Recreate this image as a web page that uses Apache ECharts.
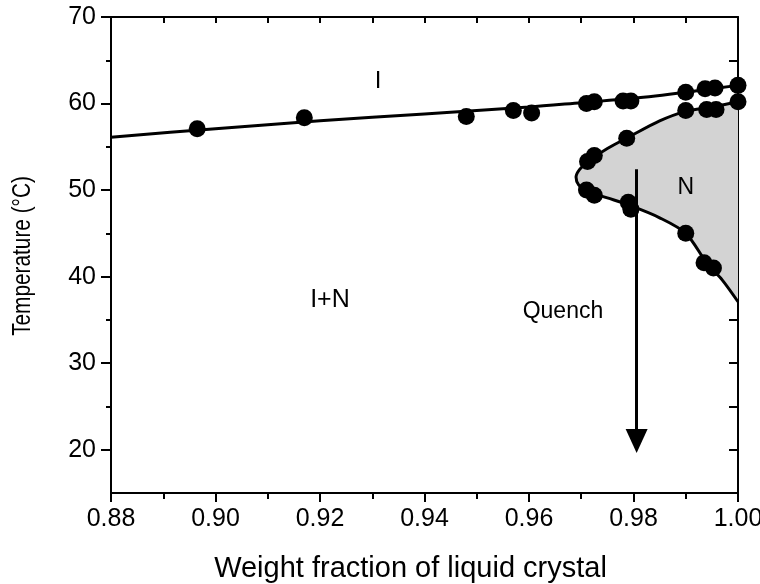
<!DOCTYPE html>
<html>
<head>
<meta charset="utf-8">
<script src="https://cdn.jsdelivr.net/npm/echarts@6/dist/echarts.min.js"></script>
<style>
  html, body { margin: 0; padding: 0; background: #fff; }
  #chart { width: 760px; height: 584px; }
</style>
</head>
<body>
<div id="chart"></div>
<script>
// Tick positions
const xMajorTicks = [0.88, 0.90, 0.92, 0.94, 0.96, 0.98, 1.00];
const xMinorTicks = [0.89, 0.91, 0.93, 0.95, 0.97, 0.99];
const xTopTicks = [0.89, 0.90, 0.91, 0.92, 0.93, 0.94, 0.95, 0.96, 0.97, 0.98, 0.99];
const yMajorTicks = [20, 30, 40, 50, 60, 70];
const yMinorTicks = [25, 35, 45, 55, 65];
const yRightTicks = [20, 25, 30, 35, 40, 45, 50, 55, 60, 65];

// Clearing line: isotropic (I) above, biphasic (I+N) below
const clearingLine = [
  [0.88, 56.1], [0.90, 57.1], [0.92, 58.0], [0.94, 58.8], [0.96, 59.6],
  [0.97, 60.1], [0.98, 60.6], [0.99, 61.3], [1.00, 62.1]
];

// Nematic (N) single-phase boundary: upper branch, nose, lower branch
const nematicBoundary = [
  [1.000, 60.2], [0.995, 59.6], [0.990, 59.1], [0.985, 58.0], [0.979, 56.1],
  [0.975, 54.8], [0.9715, 53.4], [0.9697, 52.4], [0.9690, 51.5], [0.9695, 50.6],
  [0.971, 49.9], [0.975, 49.1], [0.979, 48.3], [0.985, 46.8], [0.990, 45.0],
  [0.994, 41.6], [0.997, 39.6], [1.000, 37.1]
];

// Measured transition temperatures
const clearingPoints = [
  [0.8965, 57.1], [0.917, 58.35], [0.948, 58.5], [0.957, 59.2], [0.9605, 58.9],
  [0.971, 60.0], [0.9725, 60.2], [0.978, 60.3], [0.9795, 60.3],
  [0.990, 61.3], [0.9937, 61.7], [0.9956, 61.8], [1.000, 62.1]
];
const nematicPoints = [
  [0.990, 59.2], [0.994, 59.3], [0.9958, 59.3], [1.000, 60.2],
  [0.9787, 56.0], [0.9725, 54.0], [0.9712, 53.3],
  [0.971, 50.0], [0.9725, 49.4], [0.979, 48.6], [0.9795, 47.8],
  [0.990, 45.0], [0.9935, 41.6], [0.9953, 41.0]
];

// Quench path
const quenchPath = [[0.9806, 52.4], [0.9806, 21.0]];

// Region annotations
const regionNames = ['I', 'I+N', 'Quench', 'N'];
const regionAnchors = [[0.9311, 62.6], [0.9219, 37.3], [0.9665, 35.9], [0.990, 50.3]];
const regionFontSizes = [24, 25, 23, 23];

const FONT = '"Liberation Sans", Arial, Helvetica, sans-serif';
const BLACK = '#000';

const chart = echarts.init(document.getElementById('chart'), null, { renderer: 'canvas' });

const baseX = { type: 'value', min: 0.88, max: 1.0, splitLine: { show: false } };
const baseY = { type: 'value', min: 15, max: 70, splitLine: { show: false } };

chart.setOption({
  backgroundColor: '#fff',
  animation: false,
  grid: { left: 111, right: 22, top: 17, bottom: 91, containLabel: false, outerBoundsMode: 'none' },
  graphic: [
    {
      // vertical axis title
      type: 'text',
      x: 23,
      y: 256,
      rotation: Math.PI / 2,
      scaleX: 0.8,
      silent: true,
      style: {
        text: 'Temperature (°C)',
        font: '26px ' + FONT,
        fill: BLACK,
        align: 'center',
        verticalAlign: 'middle'
      }
    }
  ],
  xAxis: [
    Object.assign({}, baseX, {
      position: 'bottom',
      name: 'Weight fraction of liquid crystal',
      nameLocation: 'middle',
      nameGap: 61,
      nameTextStyle: { fontFamily: FONT, fontSize: 29, color: BLACK, padding: [0, 28, 0, 0] },
      axisLine: { show: true, onZero: false, lineStyle: { color: BLACK, width: 2 } },
      axisTick: { show: true, length: 9, customValues: xMajorTicks, lineStyle: { color: BLACK, width: 2 } },
      axisLabel: {
        show: true, customValues: xMajorTicks, margin: 14,
        fontFamily: FONT, fontSize: 25, color: BLACK,
        formatter: v => v.toFixed(2)
      }
    }),
    Object.assign({}, baseX, {
      position: 'bottom',
      axisLine: { show: false, onZero: false },
      axisTick: { show: true, length: 6, customValues: xMinorTicks, lineStyle: { color: BLACK, width: 2 } },
      axisLabel: { show: false }
    }),
    Object.assign({}, baseX, {
      position: 'top',
      axisLine: { show: true, onZero: false, lineStyle: { color: BLACK, width: 2 } },
      axisTick: { show: true, inside: true, length: 6, customValues: xTopTicks, lineStyle: { color: BLACK, width: 2 } },
      axisLabel: { show: false }
    })
  ],
  yAxis: [
    Object.assign({}, baseY, {
      position: 'left',
      axisLine: { show: true, onZero: false, lineStyle: { color: BLACK, width: 2 } },
      axisTick: { show: true, length: 10, customValues: yMajorTicks, lineStyle: { color: BLACK, width: 2 } },
      axisLabel: { show: true, customValues: yMajorTicks, margin: 15, fontFamily: FONT, fontSize: 25, color: BLACK }
    }),
    Object.assign({}, baseY, {
      position: 'left',
      axisLine: { show: false, onZero: false },
      axisTick: { show: true, length: 5, customValues: yMinorTicks, lineStyle: { color: BLACK, width: 2 } },
      axisLabel: { show: false }
    }),
    Object.assign({}, baseY, {
      position: 'right',
      axisLine: { show: true, onZero: false, lineStyle: { color: BLACK, width: 2 } },
      axisTick: { show: true, inside: true, length: 9, customValues: yRightTicks, lineStyle: { color: BLACK, width: 2 } },
      axisLabel: { show: false }
    })
  ],
  series: [
    {
      // shaded nematic region
      type: 'custom',
      z: 1,
      silent: true,
      data: [[0.99, 50]],
      renderItem: (params, api) => ({
        type: 'polygon',
        shape: { points: nematicBoundary.map(p => api.coord(p)) },
        style: { fill: '#d3d3d3', stroke: null }
      })
    },
    {
      type: 'line',
      z: 3,
      data: clearingLine,
      smooth: 0.3,
      showSymbol: false,
      lineStyle: { color: BLACK, width: 3 },
      markLine: {
        silent: true,
        symbol: ['none', 'triangle'],
        symbolSize: [22, 24],
        label: { show: false },
        lineStyle: { color: BLACK, width: 3, type: 'solid' },
        itemStyle: { color: BLACK },
        data: [[{ coord: quenchPath[0] }, { coord: quenchPath[1] }]]
      }
    },
    {
      type: 'line',
      z: 3,
      data: nematicBoundary,
      smooth: 0.3,
      showSymbol: false,
      lineStyle: { color: BLACK, width: 3 }
    },
    {
      type: 'scatter',
      z: 4,
      data: clearingPoints.concat(nematicPoints),
      symbol: 'circle',
      symbolSize: 17,
      itemStyle: { color: BLACK, opacity: 1 }
    },
    {
      type: 'scatter',
      z: 5,
      silent: true,
      symbolSize: 0,
      itemStyle: { opacity: 1 },
      data: regionNames.map((n, i) => ({
        name: n,
        value: regionAnchors[i],
        label: { fontSize: regionFontSizes[i] }
      })),
      label: {
        show: true,
        position: 'inside',
        formatter: '{b}',
        fontFamily: FONT,
        color: BLACK
      }
    }
  ]
});
</script>
</body>
</html>
